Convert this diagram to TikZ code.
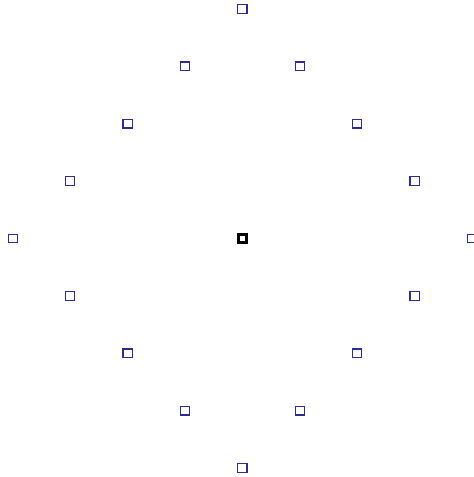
\documentclass[tikz,border=0pt]{standalone}
\definecolor{navy}{RGB}{45,45,140}
\begin{document}
\begin{tikzpicture}[x=1pt, y=-1pt,
  cell/.style={draw=navy, line width=1.2pt, minimum width=9.2pt, minimum height=8.6pt, inner sep=0pt},
  hub/.style={draw=black, line width=2.8pt, minimum size=7.6pt, inner sep=0pt}
]
\useasboundingbox (0,0) rectangle (474,477);
\node[hub] (c) at (242.3,238.5) {};
\foreach \i/\j [count=\k] in {0/-4,1/-3,2/-2,3/-1,4/0,3/1,2/2,1/3,0/4,-1/3,-2/2,-3/1,-4/0,-3/-1,-2/-2,-1/-3}
  \node[cell] (p\k) at (242.3+57.4*\i, 238.5+57.4*\j) {};
\end{tikzpicture}
\end{document}
